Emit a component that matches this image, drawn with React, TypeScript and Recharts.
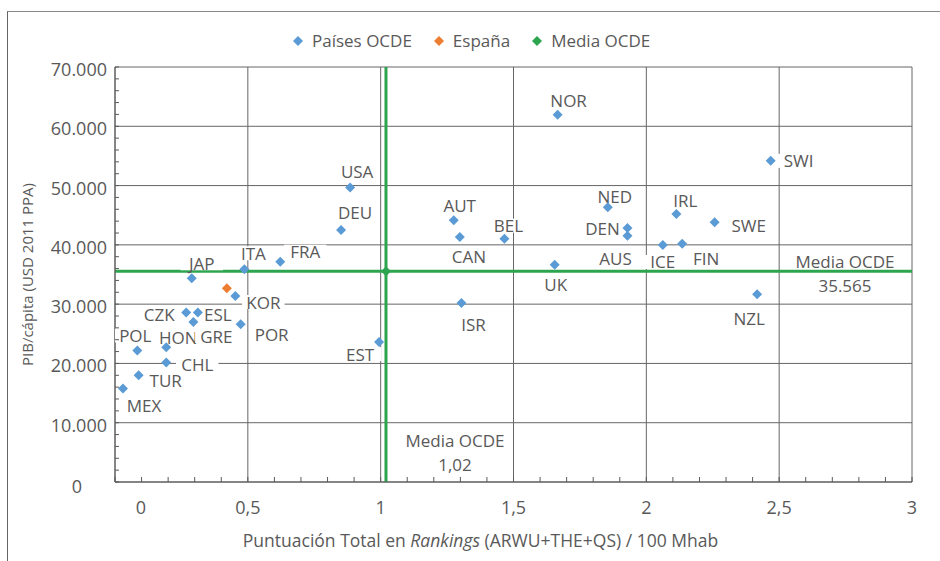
import React from 'react';
import { ScatterChart, Scatter, XAxis, YAxis, CartesianGrid, ReferenceLine } from 'recharts';

// Países OCDE: puntuación en rankings / 100 Mhab vs PIB per cápita
const paises = ['MEX', 'POL', 'TUR', 'HON', 'CHL', 'CZK', 'ESL', 'GRE', 'JAP', 'KOR', 'POR', 'ITA', 'FRA', 'DEU', 'USA', 'EST',
    'AUT', 'CAN', 'ISR', 'BEL', 'NOR', 'UK', 'NED', 'DEN', 'AUS', 'IRL', 'SWE', 'ICE', 'FIN', 'SWI', 'NZL'];
const rankings = [0.03, 0.084, 0.089, 0.193, 0.193, 0.268, 0.312, 0.295, 0.289, 0.453, 0.473, 0.487, 0.622, 0.851, 0.885, 0.994,
    1.275, 1.298, 1.304, 1.466, 1.666, 1.655, 1.855, 1.929, 1.929, 2.113, 2.257, 2.062, 2.135, 2.468, 2.417];
const pib = [15780, 22200, 18020, 22750, 20170, 28610, 28610, 26980, 34360, 31370, 26590, 35880, 37160, 42520, 49660, 23600,
    44160, 41330, 30190, 41050, 61940, 36660, 46350, 42850, 41550, 45220, 43820, 39980, 40200, 54170, 31660];

const espanaX = [0.421];
const espanaY = [32670];

const mediaX = [1.02];
const mediaY = [35565];

const xDomain = [0, 3];
const yDomain = [0, 70000];
const xTicks = [0, 0.5, 1, 1.5, 2, 2.5, 3];
const yTicks = [0, 10000, 20000, 30000, 40000, 50000, 60000, 70000];
const xMinor = Array.from({ length: 31 }, (_, i) => i / 10);
const yMinor = Array.from({ length: 36 }, (_, i) => i * 2000);

// where each country label sits relative to its marker (text centre)
const labelPos: Record<string, [number, number]> = {
    JAP: [10, -15], ITA: [9, -16], FRA: [25, -10], KOR: [28, 6], CZK: [-27, 2], ESL: [20, 2], HON: [12, -10],
    GRE: [23, 14], POR: [31, 10], POL: [-2, -15], CHL: [31, 2], TUR: [27, 5], MEX: [21, 17], USA: [7, -16],
    DEU: [14, -17], AUT: [6, -15], CAN: [9, 20], BEL: [4, -13], ISR: [12, 21], EST: [-19, 12], NOR: [11, -14],
    NED: [7, -11], DEN: [-25, 1], AUS: [-12, 23], UK: [1, 20], IRL: [9, -13], SWE: [34, 3], ICE: [0, 17],
    FIN: [24, 15], SWI: [28, 0], NZL: [-8, 24],
};

const BLUE = '#5B9BD5';
const ORANGE = '#ED7D31';
const GREEN = '#2DA44E';
const TEXT = '#595959';
const GRID = '#666666';
const FONT = '"Open Sans", sans-serif';

const paisesData = paises.map((name, i) => ({ name, x: rankings[i], y: pib[i] }));
const espanaData = espanaX.map((x, i) => ({ name: 'España', x, y: espanaY[i] }));
const mediaData = mediaX.map((x, i) => ({ name: 'Media OCDE', x, y: mediaY[i] }));

const diamond = (color: string, r = 5) => (props: any) => {
    const { cx, cy } = props;
    if (cx == null || cy == null) return <g />;
    return <polygon points={`${cx},${cy - r} ${cx + r},${cy} ${cx},${cy + r} ${cx - r},${cy}`} fill={color} />;
};

const countryLabel = (props: any) => {
    const { cx, cy, payload } = props;
    const off = labelPos[payload?.name];
    if (cx == null || !off) return <g />;
    const tx = cx + off[0];
    const ty = cy + off[1];
    const w = payload.name.length * 11.5 + 8;
    return (
        <g>
            <rect x={tx - w / 2} y={ty - 7} width={w} height={14} fill="#fff" />
            <text x={tx} y={ty} textAnchor="middle" dominantBaseline="central" fill={TEXT} fontSize={17} fontFamily={FONT}>
                {payload.name}
            </text>
        </g>
    );
};

const fmtX = (v: number) => String(v).replace('.', ',');
const fmtY = (v: number) => (v === 0 ? '0' : `${v / 1000}.000`);

const XTick = (props: any) => {
    const { x, y, payload } = props;
    const v = payload.value;
    const major = xTicks.some(t => Math.abs(t - v) < 1e-6);
    return (
        <g>
            <line x1={x} y1={y - 5} x2={x} y2={y} stroke={TEXT} />
            {major && (
                <text x={v === 0 ? x + 26 : x} y={y + 25} textAnchor="middle" dominantBaseline="central" fill={TEXT}
                    fontSize={18} fontFamily={FONT}>
                    {fmtX(v)}
                </text>
            )}
        </g>
    );
};

const YTick = (props: any) => {
    const { x, y, payload } = props;
    const v = payload.value;
    const major = yTicks.includes(v);
    return (
        <g>
            <line x1={x} y1={y} x2={x + 4} y2={y} stroke={TEXT} />
            {major && (
                <text x={v === 0 ? x - 33 : x - 8} y={v === 0 ? y + 4 : y + 2} textAnchor="end" dominantBaseline="central"
                    fill={TEXT} fontSize={18} fontFamily={FONT}>
                    {fmtY(v)}
                </text>
            )}
        </g>
    );
};

// grid only on major ticks; use the axis scale when it is handed over
const gridX = ({ xAxis, offset }: any) =>
    xTicks.map(v =>
        xAxis && typeof xAxis.scale === 'function'
            ? xAxis.scale(v)
            : offset.left + ((v - xDomain[0]) / (xDomain[1] - xDomain[0])) * offset.width);
const gridY = ({ yAxis, offset }: any) =>
    yTicks.map(v =>
        yAxis && typeof yAxis.scale === 'function'
            ? yAxis.scale(v)
            : offset.top + offset.height - ((v - yDomain[0]) / (yDomain[1] - yDomain[0])) * offset.height);

function LegendItem({ color, text }: { color: string; text: string }) {
    return (
        <div style={{ display: 'flex', alignItems: 'center', marginRight: 22 }}>
            <svg width={10} height={10} style={{ marginRight: 9 }}>
                <polygon points="5,0 10,5 5,10 0,5" fill={color} />
            </svg>
            <span>{text}</span>
        </div>
    );
}

export default function App() {
    return (
        <div style={{ position: 'relative', width: 940, height: 561, background: '#fff', fontFamily: FONT, overflow: 'hidden' }}>
            <style>{'body{margin:0}'}</style>
            <div style={{ position: 'absolute', left: 7, top: 11, width: 960, height: 600, borderLeft: '1px solid #666', borderTop: '1px solid #888' }} />
            <div style={{ position: 'absolute', left: 293, top: 30, display: 'flex', fontSize: 17, lineHeight: '22px', color: TEXT }}>
                <LegendItem color={BLUE} text="Países OCDE" />
                <LegendItem color={ORANGE} text="España" />
                <LegendItem color={GREEN} text="Media OCDE" />
            </div>
            <div style={{ position: 'absolute', left: 0, top: 0 }}>
                <ScatterChart width={940} height={561} margin={{ top: 67, right: 28, bottom: 0, left: 0 }}>
                    <CartesianGrid stroke={GRID} verticalCoordinatesGenerator={gridX} horizontalCoordinatesGenerator={gridY} />
                    <XAxis
                        type="number"
                        dataKey="x"
                        domain={xDomain}
                        allowDataOverflow
                        ticks={xMinor}
                        interval={0}
                        height={79}
                        tickSize={0}
                        tickMargin={0}
                        tickLine={false}
                        axisLine={{ stroke: TEXT }}
                        tick={XTick}
                        label={(p: any) => {
                            const vb = p.viewBox || {};
                            return (
                                <text x={vb.x + vb.width / 2 - 33} y={540} textAnchor="middle" dominantBaseline="central"
                                    fill={TEXT} fontSize={17.5} fontFamily={FONT}>
                                    Puntuación Total en <tspan fontStyle="italic">Rankings</tspan> (ARWU+THE+QS) / 100 Mhab
                                </text>
                            );
                        }}
                    />
                    <YAxis
                        type="number"
                        dataKey="y"
                        domain={yDomain}
                        allowDataOverflow
                        ticks={yMinor}
                        interval={0}
                        width={115}
                        tickSize={0}
                        tickMargin={0}
                        tickLine={false}
                        axisLine={{ stroke: TEXT }}
                        tick={YTick}
                        label={(p: any) => {
                            const vb = p.viewBox || {};
                            const cy = vb.y + vb.height / 2;
                            return (
                                <text x={27} y={cy} transform={`rotate(-90, 27, ${cy})`} textAnchor="middle"
                                    dominantBaseline="central" fill={TEXT} fontSize={15} fontFamily={FONT}>
                                    PIB/cápita (USD 2011 PPA)
                                </text>
                            );
                        }}
                    />
                    <ReferenceLine
                        y={mediaY[0]}
                        stroke={GREEN}
                        strokeWidth={3}
                        label={(p: any) => {
                            const vb = p.viewBox || {};
                            const x = vb.x + vb.width - 67;
                            return (
                                <g fill={TEXT} fontSize={17} fontFamily={FONT}>
                                    <text x={x} y={vb.y - 10} textAnchor="middle" dominantBaseline="central">Media OCDE</text>
                                    <text x={x} y={vb.y + 14} textAnchor="middle" dominantBaseline="central">35.565</text>
                                </g>
                            );
                        }}
                    />
                    <ReferenceLine
                        x={mediaX[0]}
                        stroke={GREEN}
                        strokeWidth={3}
                        label={(p: any) => {
                            const vb = p.viewBox || {};
                            const x = vb.x + 69;
                            const b = vb.y + vb.height;
                            return (
                                <g fill={TEXT} fontSize={17} fontFamily={FONT}>
                                    <text x={x} y={b - 42} textAnchor="middle" dominantBaseline="central">Media OCDE</text>
                                    <text x={x} y={b - 18} textAnchor="middle" dominantBaseline="central">1,02</text>
                                </g>
                            );
                        }}
                    />
                    <Scatter data={paisesData} shape={countryLabel} isAnimationActive={false} />
                    <Scatter name="Países OCDE" data={paisesData} shape={diamond(BLUE)} isAnimationActive={false} />
                    <Scatter name="España" data={espanaData} shape={diamond(ORANGE)} isAnimationActive={false} />
                    <Scatter name="Media OCDE" data={mediaData} shape={diamond(GREEN)} isAnimationActive={false} />
                </ScatterChart>
            </div>
        </div>
    );
}
